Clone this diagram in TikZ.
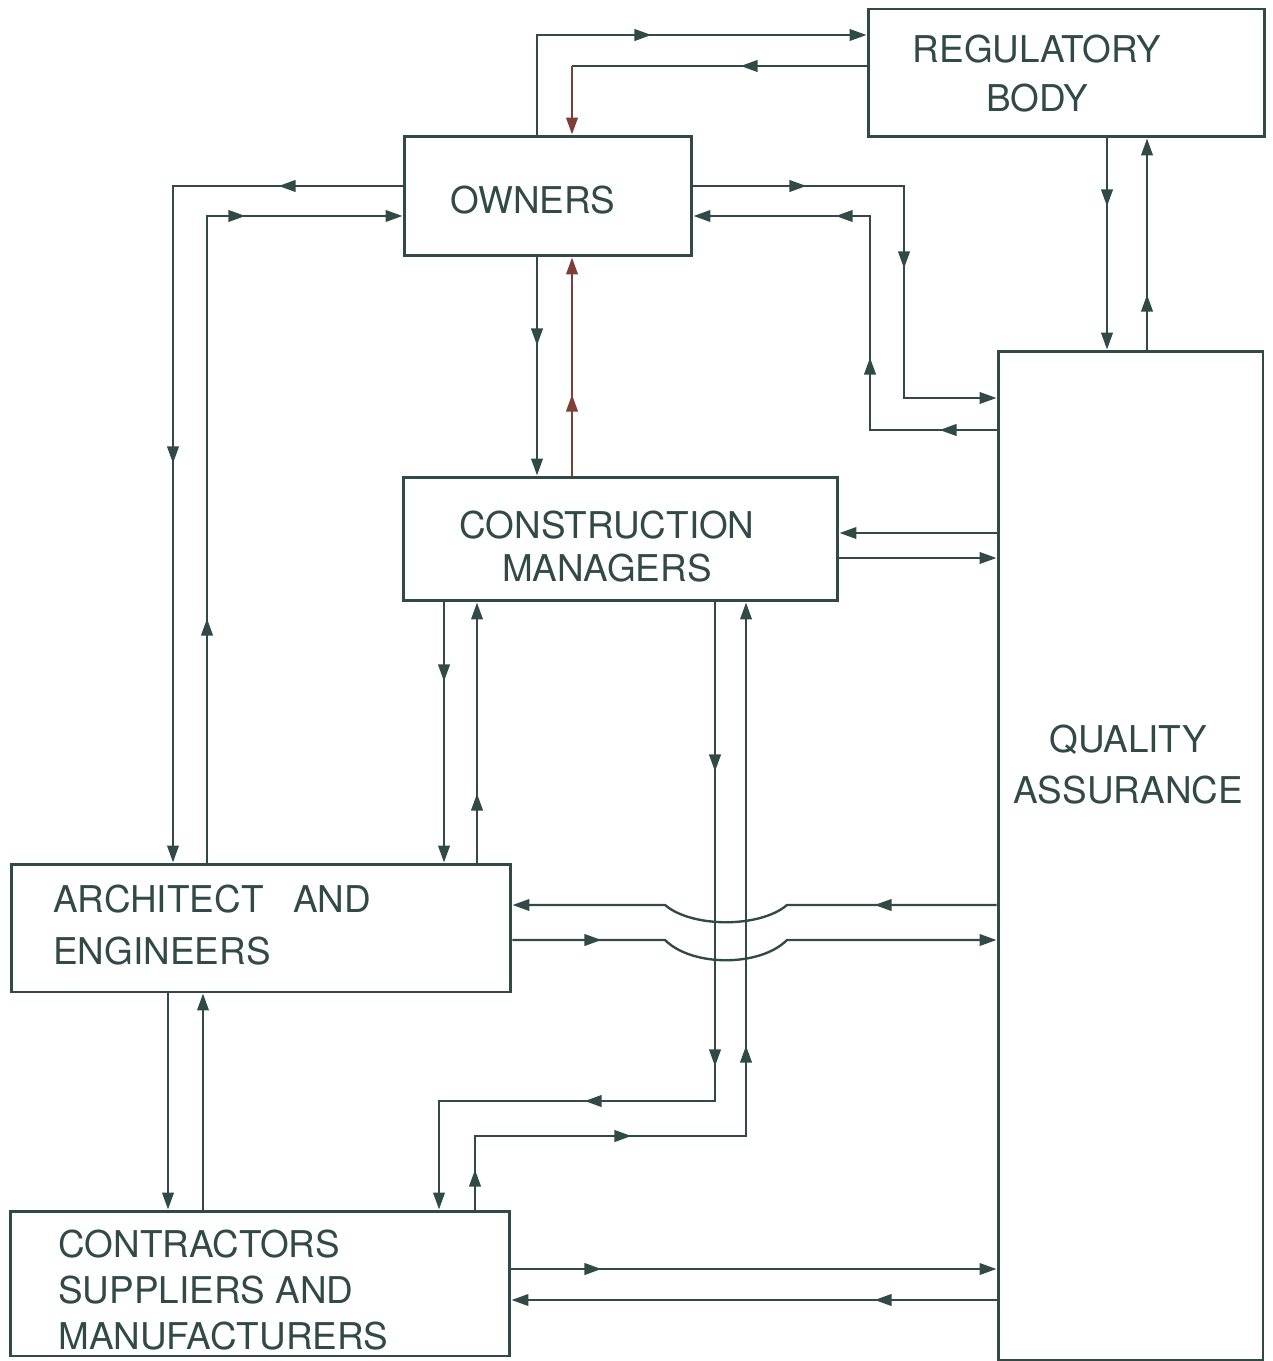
\documentclass[tikz,border=0pt]{standalone}
\usepackage{fontspec}
\setmainfont{TeX Gyre Heros}
\usetikzlibrary{arrows.meta,decorations.markings}
\definecolor{ln}{RGB}{50,74,70}
\definecolor{rl}{RGB}{128,62,56}
\tikzset{bx/.style={draw=ln,line width=1.7pt,inner sep=0pt},
 txt/.style={text=ln,font=\fontsize{21}{28}\selectfont,inner sep=0pt},
 wire/.style={color=ln,line width=1.35pt},arr/.style={wire,-{Triangle[length=3.4mm,width=2.3mm]}},
 mtip/.style={postaction={decorate,decoration={markings,mark=at position #1 with {\arrow{Triangle[length=3.4mm,width=2.3mm]}}}}}}
\begin{document}
\begin{tikzpicture}[x=0.02cm,y=-0.02cm]
\useasboundingbox (0,0) rectangle (1272,1361);
\node[bx,minimum width=7.94cm,minimum height=2.56cm] (reg) at (1066.5,73) {};
\node[bx,minimum width=5.76cm,minimum height=2.4cm] (own) at (548,196) {};
\node[bx,minimum width=8.7cm,minimum height=2.48cm] (cm) at (620.5,539) {};
\node[bx,minimum width=5.3cm,minimum height=20.2cm] (qa) at (1130.5,856) {};
\node[bx,minimum width=10cm,minimum height=2.56cm] (ae) at (261,928) {};
\node[bx,minimum width=10cm,minimum height=2.9cm] (con) at (260,1283.5) {};
\node[txt,align=center] (regt) at (1037,73.5) {REGULATORY\\BODY};
\node[txt] (ownt) at (533,200) {OWNERS};
\node[txt,align=center,font=\fontsize{21}{24}\selectfont] (cmt) at (607,546.5) {CONSTRUCTION\\MANAGERS};
\node[txt,align=center,font=\fontsize{21}{29}\selectfont] (qat) at (1128,765) {QUALITY\\ASSURANCE};
\node[txt,align=left,anchor=west,font=\fontsize{21}{29.5}\selectfont] (aet) at (53,925) {ARCHITECT\hspace{0.8em}AND\\ENGINEERS};
\node[txt,align=left,anchor=west,font=\fontsize{21}{26}\selectfont] (cont) at (58,1290) {CONTRACTORS\\SUPPLIERS AND\\MANUFACTURERS};
\coordinate (k1) at (537,35);\coordinate (k2) at (572,66);
\coordinate (k3) at (1107,240);\coordinate (k4) at (1147,240);
\coordinate (k5) at (173,186);\coordinate (k6) at (207,216);
\coordinate (k7) at (904,186);\coordinate (k8) at (904,398);
\coordinate (k9) at (870,430);\coordinate (k10) at (870,216);
\coordinate (k11) at (537,360);\coordinate (k12) at (572,360);
\coordinate (k13) at (920,533);\coordinate (k14) at (920,558);
\coordinate (k15) at (444,730);\coordinate (k16) at (477,730);
\coordinate (k17) at (715,1101);\coordinate (k18) at (439,1101);
\coordinate (k19) at (475,1136);\coordinate (k20) at (746,1136);
\coordinate (k21) at (900,905);\coordinate (k22) at (900,940);
\coordinate (h1) at (787,905);\coordinate (h2) at (665,905);
\coordinate (h3) at (665,940);\coordinate (h4) at (787,940);
\coordinate (k23) at (168,1100);\coordinate (k24) at (203,1100);
\coordinate (k25) at (750,1269);\coordinate (k26) at (750,1300);
\draw[arr,mtip=4.28cm] (own.north -| k1)--(k1)--(reg.west |- k1);
\draw[wire,mtip=2.52cm] (reg.west |- k2)--(k2);\draw[arr,color=rl] (k2)--(own.north -| k2);
\draw[arr,mtip=1.36cm] (reg.south -| k3)--(qa.north -| k3);
\draw[arr,mtip=1.1cm] (qa.north -| k4)--(reg.south -| k4);
\draw[arr,mtip=2.48cm,mtip=10.14cm] (own.west |- k5)--(k5)--(ae.north -| k5);
\draw[arr,mtip=4.88cm,mtip=13.7cm] (ae.north -| k6)--(k6)--(own.west |- k6);
\draw[arr,mtip=2.26cm,mtip=5.86cm] (own.east |- k7)--(k7)--(k8)--(qa.west |- k8);
\draw[arr,mtip=1.14cm,mtip=3.98cm,mtip=7.5cm] (qa.west |- k9)--(k9)--(k10)--(own.east |- k10);
\draw[arr,mtip=1.76cm] (own.south -| k11)--(cm.north -| k11);
\draw[arr,color=rl,mtip=1.62cm] (cm.north -| k12)--(own.south -| k12);
\draw[arr] (qa.west |- k13)--(cm.east |- k13);\draw[arr] (cm.east |- k14)--(qa.west |- k14);
\draw[arr,mtip=1.58cm] (cm.south -| k15)--(ae.north -| k15);
\draw[arr,mtip=1.38cm] (ae.north -| k16)--(cm.south -| k16);
\draw[arr,mtip=3.38cm,mtip=9.28cm,mtip=12.58cm] (cm.south -| k17)--(k17)--(k18)--(con.north -| k18);
\draw[arr,mtip=0.8cm,mtip=4.6cm,mtip=8.7cm] (con.north -| k19)--(k19)--(k20)--(cm.south -| k20);
\draw[arr,mtip=2.44cm] (qa.west |- k21)--(h1) .. controls (760,928) and (692,928) .. (h2)--(ae.east |- k21);
\draw[arr,mtip=1.78cm] (ae.east |- k22)--(h3) .. controls (692,967) and (760,967) .. (h4)--(qa.west |- k22);
\draw[arr] (ae.south -| k23)--(con.north -| k23);\draw[arr] (con.north -| k24)--(ae.south -| k24);
\draw[arr,mtip=1.8cm] (con.east |- k25)--(qa.west |- k25);
\draw[arr,mtip=2.44cm] (qa.west |- k26)--(con.east |- k26);
\end{tikzpicture}
\end{document}
